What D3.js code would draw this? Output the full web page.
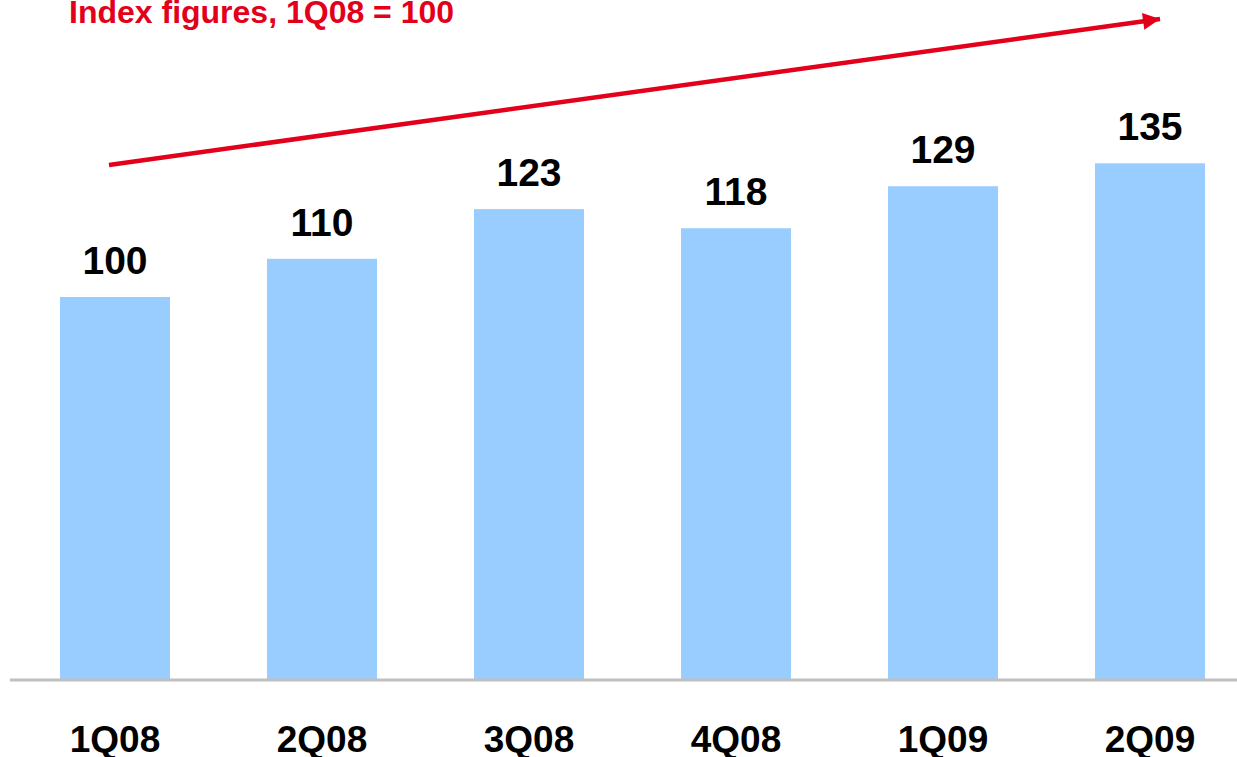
<!DOCTYPE html>
<html>
<head>
<meta charset="utf-8">
<script src="https://cdn.jsdelivr.net/npm/d3@7"></script>
<style>
  html, body { margin: 0; padding: 0; background: #ffffff; }
  svg { display: block; font-family: "Liberation Sans", Arial, sans-serif; }
</style>
</head>
<body>
<svg id="chart" width="1237" height="757"></svg>
<script>
// Quarterly index values (1Q08 = 100)
const categories = ["1Q08", "2Q08", "3Q08", "4Q08", "1Q09", "2Q09"];
const values = [100, 110, 123, 118, 129, 135];
const titleText = "Index figures, 1Q08 = 100";

const W = 1237, H = 757;
const baseline = 679;
const red = "#e2001a";
const barColor = "#99ccff";

const svg = d3.select("#chart");

const x = d3.scaleBand()
  .domain(categories)
  .range([11.5, 1253.5])
  .paddingInner(0.4686)
  .paddingOuter(0.2343);

const y = d3.scaleLinear()
  .domain([0, 135])
  .range([baseline, baseline - 135 * 3.82]);

// Bars
svg.append("g")
  .selectAll("rect")
  .data(values)
  .join("rect")
  .attr("x", (d, i) => x(categories[i]))
  .attr("y", d => y(d))
  .attr("width", x.bandwidth())
  .attr("height", d => y(0) - y(d))
  .attr("fill", barColor);

// Value labels above bars
svg.append("g")
  .selectAll("text")
  .data(values)
  .join("text")
  .attr("x", (d, i) => x(categories[i]) + x.bandwidth() / 2)
  .attr("y", d => y(d) - 23)
  .attr("text-anchor", "middle")
  .attr("font-size", 39)
  .attr("font-weight", "bold")
  .attr("fill", "#000")
  .text(d => d);

// Baseline axis
const axis = svg.append("g")
  .attr("transform", `translate(0,${baseline + 1})`)
  .call(d3.axisBottom(x).tickSize(0).tickPadding(0));
axis.select(".domain").remove();
axis.append("line")
  .attr("x1", 10).attr("x2", W)
  .attr("y1", 0).attr("y2", 0)
  .attr("stroke", "#c0c0c0")
  .attr("stroke-width", 3);
axis.selectAll(".tick text")
  .attr("y", 72)
  .attr("dy", 0)
  .attr("font-size", 37)
  .attr("font-weight", "bold")
  .attr("font-family", "'Liberation Sans', Arial, sans-serif")
  .attr("fill", "#000");

// Title
svg.append("text")
  .attr("x", 69)
  .attr("y", 23)
  .attr("font-size", 32)
  .attr("font-weight", "bold")
  .attr("fill", red)
  .text(titleText);

// Upward trend arrow
const defs = svg.append("defs");
defs.append("marker")
  .attr("id", "arrowhead")
  .attr("viewBox", "0 0 10 10")
  .attr("refX", 10)
  .attr("refY", 5)
  .attr("markerUnits", "userSpaceOnUse")
  .attr("markerWidth", 18)
  .attr("markerHeight", 17)
  .attr("orient", "auto")
  .append("path")
  .attr("d", "M0,0 L10,5 L0,10 Z")
  .attr("fill", red);

svg.append("line")
  .attr("x1", 109).attr("y1", 165)
  .attr("x2", 1160).attr("y2", 19)
  .attr("stroke", red)
  .attr("stroke-width", 4.5)
  .attr("marker-end", "url(#arrowhead)");
</script>
</body>
</html>
